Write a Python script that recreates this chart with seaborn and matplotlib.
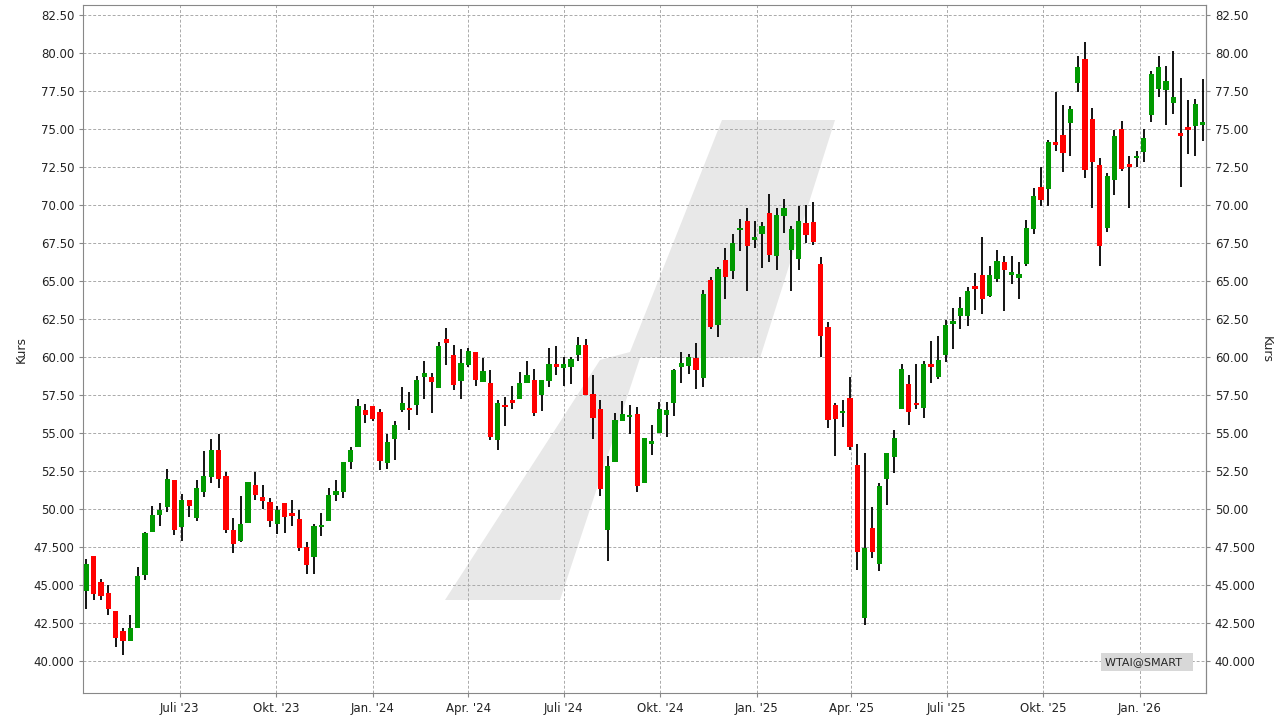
import matplotlib
matplotlib.use("Agg")
import matplotlib.pyplot as plt
import matplotlib.dates as mdates
from matplotlib.patches import Polygon
import numpy as np
import pandas as pd
import seaborn as sns

# weekly OHLC
opens = [
    44.6, 46.9, 45.2, 44.5, 43.3, 42.0, 41.35, 42.2, 45.65, 48.5, 49.6, 50.15, 51.9, 48.8, 50.6, 49.4,
    51.1, 52.1, 53.85, 52.15, 48.6, 47.9, 49.1, 51.6, 50.8, 50.45, 49.0, 50.38, 49.65, 49.33, 47.47, 46.85,
    48.8, 49.2, 50.9, 51.1, 53.1, 54.1, 56.5, 56.75, 56.35, 53.0, 54.6, 56.5, 56.6, 56.8, 58.7, 58.65,
    57.95, 61.2, 60.15, 58.4, 59.46, 60.3, 58.35, 58.3, 54.5, 56.8, 57.15, 57.2, 58.3, 58.5, 57.5, 58.4,
    59.45, 59.25, 59.35, 60.1, 60.75, 57.55, 56.55, 48.6, 53.1, 55.8, 56.05, 56.25, 51.7, 54.3, 55.0, 56.2,
    56.98, 59.3, 59.4, 59.9, 58.6, 65.05, 62.1, 66.35, 65.65, 68.35, 68.95, 67.7, 68.1, 69.45, 66.65, 69.25,
    67.0, 66.45, 68.8, 68.85, 66.1, 61.95, 56.8, 56.3, 57.3, 52.9, 42.85, 48.77, 46.38, 51.95, 53.4, 56.57,
    58.2, 56.9, 56.65, 59.5, 58.65, 60.1, 62.13, 62.7, 62.7, 64.63, 65.37, 64.0, 65.1, 66.2, 65.4, 65.2,
    66.1, 68.4, 71.16, 71.04, 74.1, 74.56, 75.37, 78.0, 79.56, 75.6, 72.6, 68.5, 71.6, 75.0, 72.65, 73.07,
    73.46, 75.9, 77.6, 77.54, 76.7, 74.7, 75.1, 75.18, 75.24, 74.36, 71.36, 75.33, 72.87,
]
closes = [
    46.4, 44.4, 44.3, 43.4, 41.5, 41.35, 42.2, 45.6, 48.4, 49.6, 49.9, 51.95, 48.6, 50.6, 50.2, 51.4,
    52.15, 53.85, 51.95, 48.6, 47.7, 49.0, 51.8, 50.9, 50.5, 49.2, 49.95, 49.48, 49.55, 47.45, 46.33, 48.9,
    48.95, 50.9, 51.2, 53.1, 53.85, 56.75, 56.2, 55.9, 53.15, 54.4, 55.5, 56.95, 56.5, 58.45, 58.95, 58.35,
    60.7, 60.9, 58.15, 59.6, 60.35, 58.5, 59.05, 54.75, 56.95, 56.7, 56.95, 58.3, 58.8, 56.3, 58.45, 59.5,
    59.35, 59.5, 59.85, 60.75, 57.5, 56.0, 51.3, 52.8, 55.85, 56.25, 56.2, 51.5, 54.65, 54.45, 56.55, 56.5,
    59.1, 59.6, 60.0, 59.1, 64.1, 61.95, 65.8, 65.25, 67.45, 68.45, 67.3, 67.85, 68.6, 66.7, 69.3, 69.75,
    68.4, 68.95, 68.0, 67.55, 61.4, 55.85, 55.9, 56.45, 54.1, 47.15, 47.45, 47.17, 51.5, 53.65, 54.63, 59.2,
    56.4, 56.8, 59.5, 59.3, 59.8, 62.07, 62.35, 63.2, 64.3, 64.46, 63.8, 65.4, 66.3, 65.7, 65.55, 65.45,
    68.45, 70.56, 70.3, 74.1, 73.9, 73.4, 76.27, 79.06, 72.28, 72.8, 67.3, 71.9, 74.5, 72.35, 72.48, 73.2,
    74.36, 78.57, 79.03, 78.1, 77.1, 74.5, 74.9, 76.6, 75.42, 73.66, 74.3, 74.32, 74.63,
]
highs = [
    46.7, 46.9, 45.4, 45.0, 43.3, 42.2, 43.0, 46.15, 48.5, 50.2, 50.4, 52.6, 51.9, 51.0, 50.6, 51.9,
    53.8, 54.6, 54.9, 52.4, 49.4, 50.85, 51.8, 52.4, 51.6, 50.7, 50.2, 50.38, 50.6, 49.9, 47.8, 49.0,
    49.7, 51.4, 51.9, 53.1, 54.1, 57.2, 56.9, 56.75, 56.55, 54.9, 55.75, 58.0, 57.7, 58.75, 59.7, 58.95,
    60.95, 61.9, 60.8, 60.5, 60.55, 60.3, 59.9, 59.1, 57.15, 57.35, 58.05, 59.0, 59.7, 59.2, 58.45, 60.55,
    60.7, 60.0, 60.0, 61.3, 61.15, 58.8, 57.15, 53.5, 56.3, 57.1, 56.8, 56.7, 54.65, 55.5, 57.0, 57.0,
    59.2, 60.3, 60.2, 60.9, 64.4, 65.25, 65.9, 67.15, 68.05, 69.05, 69.8, 68.95, 68.85, 70.7, 69.8, 70.35,
    68.6, 69.9, 69.95, 70.2, 66.55, 62.3, 56.95, 57.15, 58.65, 54.25, 53.7, 50.1, 51.7, 53.7, 55.2, 59.55,
    58.8, 59.55, 59.7, 61.05, 61.4, 62.43, 63.2, 63.96, 64.6, 65.5, 67.9, 66.0, 67.0, 66.6, 66.6, 66.2,
    68.98, 71.1, 72.5, 74.25, 77.4, 76.55, 76.47, 79.76, 80.68, 76.35, 73.1, 72.05, 74.9, 75.5, 73.2, 73.5,
    75.0, 78.77, 79.8, 79.1, 80.1, 78.3, 76.86, 76.93, 78.25, 75.75, 76.47, 77.85, 75.94,
]
lows = [
    43.4, 44.0, 44.0, 43.0, 40.9, 40.4, 41.35, 42.2, 45.3, 48.5, 48.85, 49.8, 48.3, 47.9, 49.5, 49.2,
    50.8, 51.7, 51.4, 48.45, 47.1, 47.8, 49.1, 50.6, 50.0, 48.8, 48.35, 48.4, 48.9, 47.25, 45.7, 45.7,
    48.2, 49.2, 50.5, 50.7, 52.6, 54.1, 55.65, 55.8, 52.55, 52.6, 53.2, 56.4, 55.2, 56.2, 57.2, 56.3,
    57.95, 59.45, 57.8, 57.25, 59.3, 58.1, 58.35, 54.55, 53.9, 55.45, 56.55, 57.2, 58.3, 56.1, 56.45, 58.0,
    58.8, 58.1, 58.2, 59.7, 57.5, 54.6, 50.85, 46.6, 53.1, 55.8, 54.95, 51.1, 51.7, 53.55, 55.0, 54.75,
    56.1, 58.3, 58.85, 57.9, 58.0, 61.85, 61.3, 63.8, 65.1, 66.95, 64.35, 67.15, 65.85, 66.2, 65.7, 68.15,
    64.3, 65.7, 67.45, 67.35, 60.0, 55.3, 53.45, 55.4, 53.9, 46.0, 42.4, 46.75, 45.95, 50.25, 52.35, 56.57,
    55.5, 56.6, 55.95, 58.3, 58.55, 59.65, 60.5, 61.8, 62.0, 63.1, 62.8, 63.9, 64.9, 63.0, 64.8, 63.8,
    65.97, 68.1, 69.9, 69.9, 73.55, 72.15, 73.2, 77.4, 71.75, 69.8, 65.95, 68.2, 70.65, 72.2, 69.8, 72.5,
    72.8, 75.44, 77.1, 75.24, 75.96, 71.16, 73.33, 73.2, 74.2, 71.75, 70.96, 74.1, 72.5,
]
dates = pd.date_range("2023-04-03", periods=len(opens), freq="7D")

tick_dates = pd.to_datetime([
    "2023-07-01", "2023-10-01", "2024-01-01", "2024-04-01", "2024-07-01", "2024-10-01",
    "2025-01-01", "2025-04-01", "2025-07-01", "2025-10-01", "2026-01-01",
])
tick_labels = [
    "Juli '23", "Okt. '23", "Jan. '24", "Apr. '24", "Juli '24", "Okt. '24",
    "Jan. '25", "Apr. '25", "Juli '25", "Okt. '25", "Jan. '26",
]
y_ticks = np.arange(40, 82.51, 2.5)
y_labels = [f"{v:.2f}" if v >= 50 else f"{v:.3f}" for v in y_ticks]

df = pd.DataFrame({"date": dates, "open": opens, "close": closes, "high": highs, "low": lows})
df["up"] = df["close"] >= df["open"]

sns.set_style("white")
plt.rcParams["font.family"] = ["DejaVu Sans"]

fig = plt.figure(figsize=(12.8, 7.2), dpi=100)
ax = fig.add_axes([0.065, 0.0375, 0.877, 0.955])

# watermark behind the data
wm = [(445, 600), (560, 600), (640, 358), (760, 358), (835, 120), (722, 120), (630, 352), (600, 360)]
ax.add_patch(Polygon([(x / 1280, 1 - y / 720) for x, y in wm], closed=True,
                     transform=fig.transFigure, facecolor="#e8e8e8", edgecolor="none", zorder=0))

x = mdates.date2num(df["date"])
colors = np.where(df["up"], "#009900", "#ff0000")
ax.vlines(x, df["low"], df["high"], color="black", linewidth=1.3, zorder=2)
body_lo = np.minimum(df["open"], df["close"])
body_h = np.maximum(np.abs(df["close"] - df["open"]), 0.15)
ax.bar(x, body_h, bottom=body_lo, width=5.0, color=colors, linewidth=0, zorder=3)

ax.set_xlim(mdates.date2num(pd.Timestamp("2023-03-31")), mdates.date2num(pd.Timestamp("2026-03-05")))
ax.set_ylim(37.9, 83.1)
ax.set_xticks(mdates.date2num(tick_dates))
ax.set_xticklabels(tick_labels, fontsize=8.5)
ax.set_yticks(y_ticks)
ax.set_yticklabels(y_labels, fontsize=8.5)
ax.tick_params(axis="both", length=3, color="#888888", labelcolor="#222222")
ax.tick_params(axis="y", right=True, labelright=True, left=True)
ax.tick_params(axis="x", bottom=True)
ax.grid(True, linestyle=(0, (3, 2)), color="#aaaaaa", linewidth=0.7, zorder=1)
ax.set_axisbelow(True)
ax.patch.set_alpha(0)
for s in ax.spines.values():
    s.set_color("#888888")
ax.set_ylabel("Kurs", fontsize=9)
ax2 = ax.secondary_yaxis("right")
ax2.set_yticks([])
ax2.set_ylabel("Kurs", fontsize=9, rotation=270, labelpad=48)
ax2.spines["right"].set_color("#888888")

ax.text(0.985, 0.045, "WTAI@SMART  ", transform=ax.transAxes, ha="right", va="center", fontsize=8,
        bbox=dict(facecolor="#d8d8d8", edgecolor="none", pad=3))

fig.savefig("out.png", dpi=100)
